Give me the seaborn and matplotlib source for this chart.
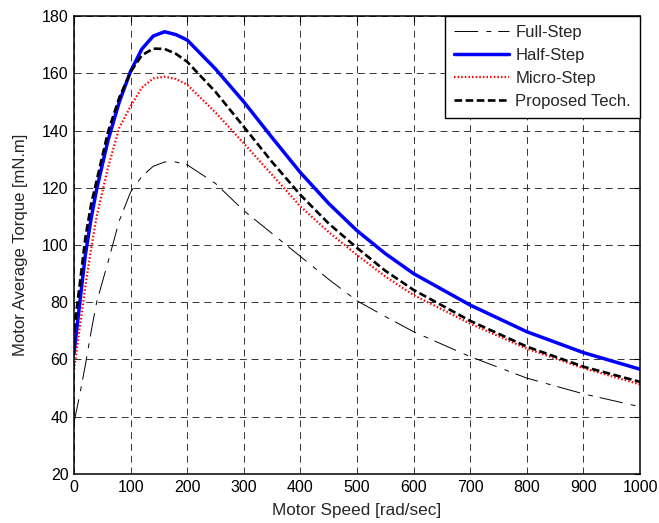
import matplotlib
matplotlib.use("Agg")
import matplotlib.pyplot as plt
import seaborn as sns
import pandas as pd

speed = [0, 10, 20, 30, 40, 60, 80, 100, 120, 140, 160, 180, 200, 250, 300,
         350, 400, 450, 500, 550, 600, 700, 800, 900, 1000]

full_step = [38, 47.5, 58, 69.5, 80, 94, 108.5, 118.5, 124, 127.5, 129, 129, 128,
             121.5, 112, 104, 96, 88, 80.5, 75, 69.7, 61, 53.5, 48, 43.5]
half_step = [62, 79.5, 96.5, 109, 119.5, 136.5, 150, 160.7, 168.5, 173, 174.5, 173.5,
             171.6, 161.5, 150, 137.5, 125.3, 114.5, 105, 97, 90, 79, 69.7, 62.4, 56.6]
micro_step = [56.5, 71, 85.5, 98.5, 110, 127, 141, 148.5, 155, 158.2, 158.8, 158,
              156, 146.3, 135.5, 124.5, 113.5, 104.5, 96.5, 89, 82.5, 72.5, 63.8, 57, 51.3]
proposed = [70, 86, 102.5, 114, 122.5, 139.5, 151.5, 160.5, 166.3, 168.6, 168.5, 166.8,
            164, 153.5, 141.3, 129, 117.5, 107.5, 99, 91, 84.3, 73.5, 64.5, 57.5, 52.2]

series_names = ["Full-Step", "Half-Step", "Micro-Step", "Proposed Tech."]
x_ticks = [0, 100, 200, 300, 400, 500, 600, 700, 800, 900, 1000]
y_ticks = [20, 40, 60, 80, 100, 120, 140, 160, 180]

sns.set_style("white")
plt.rcParams["font.family"] = ["Liberation Sans", "DejaVu Sans"]
plt.rcParams["lines.scale_dashes"] = False

fig = plt.figure(figsize=(6.59, 5.23), dpi=100)
ax = fig.add_axes([0.1123, 0.0937, 0.9712 - 0.1123, 0.9694 - 0.0937])

styles = {
    "Full-Step": dict(color="black", lw=0.7, ls=(0, (17, 6, 3.5, 5))),
    "Half-Step": dict(color="#0000FF", lw=2.5, ls="-"),
    "Micro-Step": dict(color="#FF0000", lw=1.6, ls=(0, (1.1, 1.5))),
    "Proposed Tech.": dict(color="black", lw=1.9, ls=(0, (5.5, 2.5))),
}
values = [full_step, half_step, micro_step, proposed]

for name, vals in zip(series_names, values):
    df = pd.DataFrame({"speed": speed, "torque": vals})
    st = styles[name]
    sns.lineplot(data=df, x="speed", y="torque", ax=ax, color=st["color"],
                 linewidth=st["lw"], linestyle=st["ls"], label=name,
                 estimator=None, sort=False)

ax.set_xlim(0, 1000)
ax.set_ylim(20, 180)
ax.set_xticks(x_ticks)
ax.set_yticks(y_ticks)
ax.tick_params(direction="in", length=4, width=0.8, top=True, right=True,
               labelsize=11.5, colors="black", pad=4)
ax.grid(True, color="0.2", linestyle=(0, (5, 3.5)), linewidth=0.7)
for sp in ax.spines.values():
    sp.set_color("black")
    sp.set_linewidth(1.1)

ax.set_xlabel("Motor Speed [rad/sec]", fontsize=12.3, labelpad=6)
ax.set_ylabel("Motor Average Torque [mN.m]", fontsize=12, labelpad=10)

leg = ax.legend(loc="upper right", bbox_to_anchor=(1.0, 1.0), borderaxespad=0,
                fancybox=False, framealpha=1, edgecolor="black", fontsize=12,
                handlelength=3.3, handletextpad=0.35, labelspacing=0.48,
                borderpad=0.55)
leg.get_frame().set_linewidth(1.0)

fig.savefig("out.png", dpi=100)
